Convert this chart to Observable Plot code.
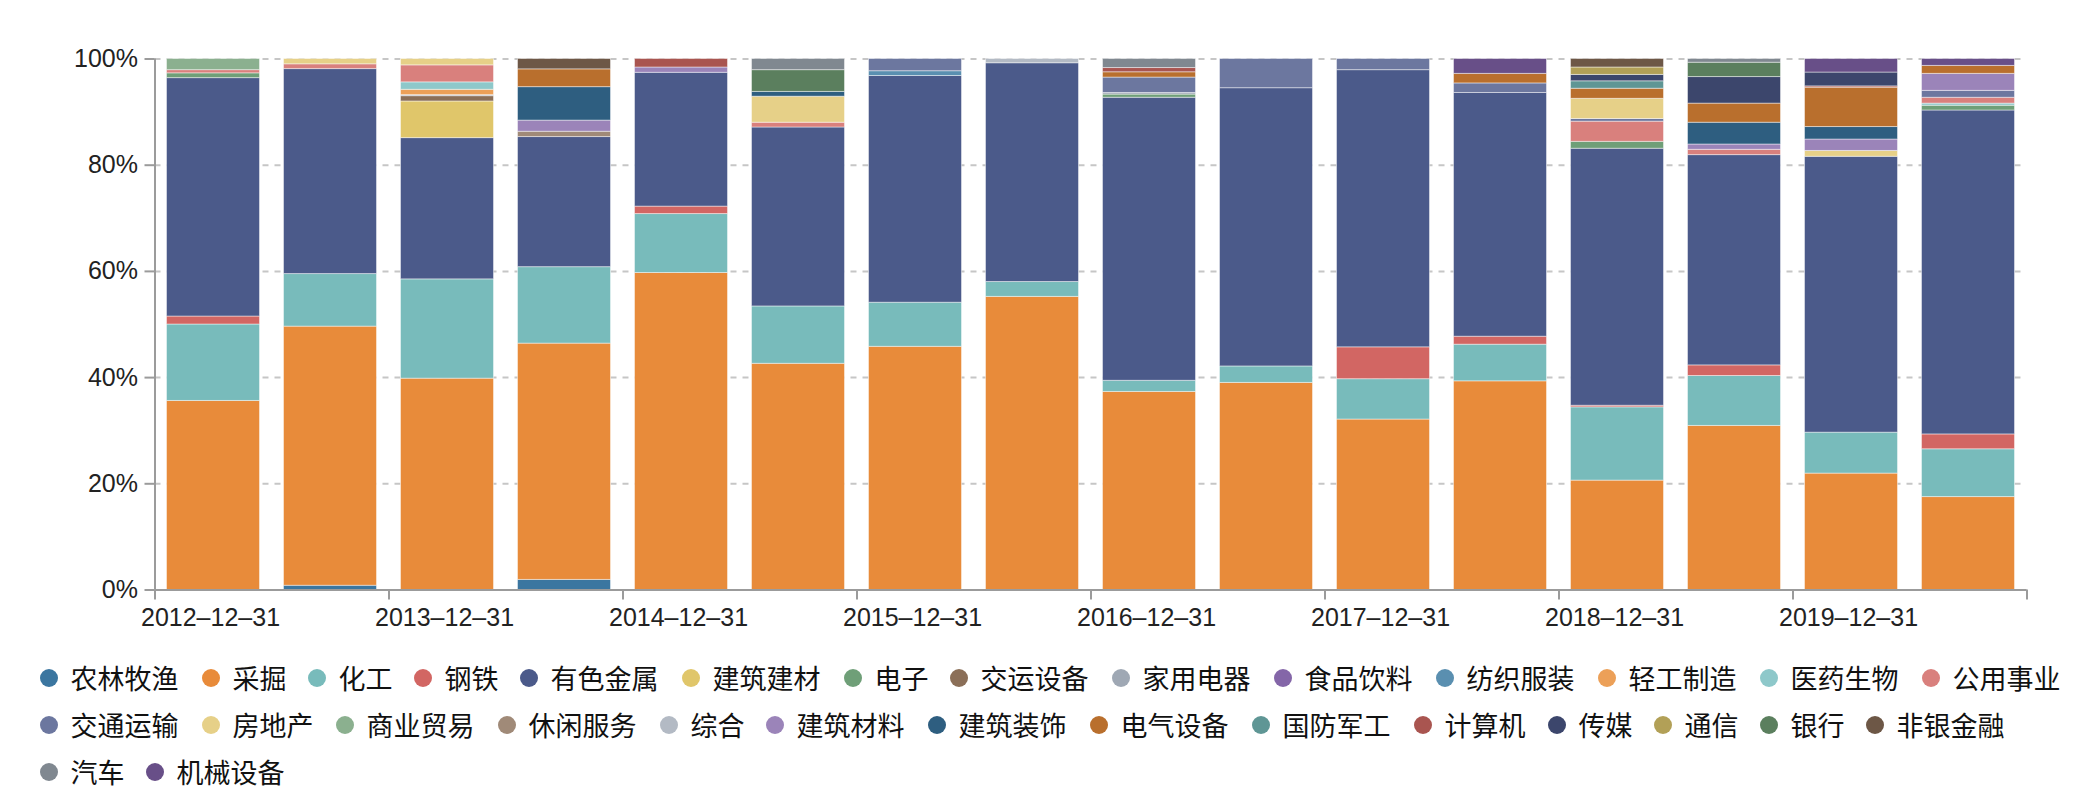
<!DOCTYPE html>
<html><head><meta charset="utf-8">
<script src="https://cdn.jsdelivr.net/npm/d3@7"></script>
<script src="https://cdn.jsdelivr.net/npm/@observablehq/plot@0.6"></script>
<style>
body{margin:0;background:#fff;}
#wrap{position:relative;width:2086px;height:806px;overflow:hidden;}
#legend{position:absolute;left:0;top:0;width:2086px;height:806px;}
.item{position:absolute;display:flex;align-items:center;height:30px;margin-top:-15px;font-family:"Noto Sans CJK SC",sans-serif;font-size:27px;line-height:1;color:#111;white-space:nowrap;}
.sw{width:18px;height:18px;border-radius:50%;margin-left:-9px;margin-right:13px;flex:none;}
</style></head><body>
<div id="wrap"><div id="chart"></div><div id="legend"></div></div>
<script>
const periods = ["2012-12-31","2013-06-30","2013-12-31","2014-06-30","2014-12-31","2015-06-30","2015-12-31","2016-06-30",
                 "2016-12-31","2017-06-30","2017-12-31","2018-06-30","2018-12-31","2019-06-30","2019-12-31","2020-06-30"];
const categories = ["农林牧渔","采掘","化工","钢铁","有色金属","建筑建材","电子","交运设备","家用电器","食品饮料",
                    "纺织服装","轻工制造","医药生物","公用事业","交通运输","房地产","商业贸易","休闲服务","综合","建筑材料",
                    "建筑装饰","电气设备","国防军工","计算机","传媒","通信","银行","非银金融","汽车","机械设备"];
const colors = ["#3b76a0","#e88b3a","#78bbbb","#d26663","#4b5a8a","#e0c66a","#6f9f78","#8b6f58","#9fa8b4","#8466a8",
                "#5a8fb0","#eca058","#8ec8ca","#d9807d","#6c779f","#e6d088","#8bb08f","#a08a78","#b3bac4","#9b84b9",
                "#2e5e80","#b96f2d","#5f9695","#a95550","#3c466c","#b2a057","#5b7f5e","#6d5746","#808890","#684f88"];
// share (%) of each industry (rows, same order as categories) in each period (columns)
const shares = [
  [0,0.8,0,1.9,0,0,0,0,0,0,0,0,0,0,0,0],                       // 农林牧渔
  [35.6,48.8,39.8,44.5,59.7,42.6,45.8,55.2,37.3,39.0,32.1,39.3,20.6,30.9,21.9,17.5], // 采掘
  [14.4,9.9,18.7,14.4,11.1,10.8,8.3,2.8,2.1,3.1,7.6,6.9,13.8,9.4,7.7,9.0], // 化工
  [1.5,0,0,0,1.4,0,0,0,0,0,6.0,1.5,0.3,2.0,0,2.8],             // 钢铁
  [44.9,38.6,26.6,24.5,25.2,33.7,42.7,41.2,53.3,52.4,52.2,45.9,48.4,39.6,51.9,61.0], // 有色金属
  [0,0,6.9,0,0,0,0,0,0,0,0,0,0,0,0,0],                         // 建筑建材
  [0.9,0,0,0,0,0,0,0,0.6,0,0,0,1.3,0,0,0.9],                   // 电子
  [0,0,1.0,0,0,0,0,0,0,0,0,0,0,0,0,0],                         // 交运设备
  [0,0,0.2,0,0,0,0,0,0.3,0,0,0,0,0,0,0],                       // 家用电器
  [0,0,0,0,0,0,0,0,0,0,0,0,0,0,0,0],                           // 食品饮料
  [0,0,0,0,0,0,0.9,0,0,0,0,0,0,0,0,0],                         // 纺织服装
  [0,0,1.0,0,0,0,0,0,0,0,0,0,0,0,0,0],                         // 轻工制造
  [0,0,1.4,0,0,0,0,0,0,0,0,0,0,0,0,0.4],                       // 医药生物
  [0.6,0.9,3.2,0,0,0.9,0,0,0,0,0,0,3.8,1.0,0,1.1],             // 公用事业
  [0,0,0,0,0,0,2.3,0,2.9,5.5,2.1,1.8,0.5,0,0,1.3],             // 交通运输
  [0,1.0,1.2,0,0,4.9,0,0,0,0,0,0,3.8,0,1.1,0],                 // 房地产
  [2.1,0,0,0,0,0,0,0,0,0,0,0,0,0,0,0],                         // 商业贸易
  [0,0,0,1.0,0,0,0,0,0,0,0,0,0,0,0,0],                         // 休闲服务
  [0,0,0,0,0,0,0,0.8,0,0,0,0,0,0,0,0],                         // 综合
  [0,0,0,2.1,1.0,0,0,0,0,0,0,0,0,1.0,2.15,3.2],                // 建筑材料
  [0,0,0,6.3,0,0.9,0,0,0,0,0,0,0,4.1,2.35,0],                  // 建筑装饰
  [0,0,0,3.35,0,0,0,0,1.0,0,0,1.8,1.9,3.6,7.4,1.5],            // 电气设备
  [0,0,0,0,0,0,0,0,0,0,0,0,1.4,0,0,0],                         // 国防军工
  [0,0,0,0,1.6,0,0,0,0.8,0,0,0,0,0,0.25,0],                    // 计算机
  [0,0,0,0,0,0,0,0,0,0,0,0,1.2,5.0,2.6,0],                     // 传媒
  [0,0,0,0,0,0,0,0,0,0,0,0,1.4,0,0,0],                         // 通信
  [0,0,0,0,0,4.1,0,0,0,0,0,0,0,2.7,0,0],                       // 银行
  [0,0,0,1.95,0,0,0,0,0,0,0,0,1.6,0,0,0],                      // 非银金融
  [0,0,0,0,0,2.1,0,0,1.7,0,0,0,0,0.7,0,0],                     // 汽车
  [0,0,0,0,0,0,0,0,0,0,0,2.8,0,0,2.55,1.3]                     // 机械设备
];
const yTicks = [0, 0.2, 0.4, 0.6, 0.8, 1];
const xTickIdx = [0, 2, 4, 6, 8, 10, 12, 14, 16];
const legendRows = [14, 14, 2];

const rows = [];
categories.forEach((cat, c) => {
  shares[c].forEach((v, i) => { if (v > 0) rows.push({i, cat, v}); });
});

const axisColor = "#9b9b9b";
const chart = Plot.plot({
  width: 2086, height: 640,
  marginLeft: 154.5, marginRight: 59.5, marginTop: 58.5, marginBottom: 50.5,
  x: {type: "linear", domain: [0, periods.length], axis: null},
  y: {domain: [0, 1], axis: null},
  color: {domain: categories, range: colors},
  style: {fontFamily: "'Liberation Sans', Arial, sans-serif", fontSize: "25px", color: "#222", background: "white", overflow: "visible"},
  marks: [
    Plot.gridY(yTicks.slice(1), {stroke: "#c6c6c6", strokeOpacity: 1, strokeWidth: 2, strokeDasharray: "6,6"}),
    Plot.rect(rows, Plot.stackY({
      x1: "i", x2: d => d.i + 1, y: "v", z: "cat", fill: "cat", offset: "normalize", order: null,
      insetLeft: 12, insetRight: 12, stroke: "#ffffff", strokeOpacity: 0.45, strokeWidth: 1
    })),
    Plot.ruleX([0], {stroke: axisColor, strokeWidth: 2}),
    Plot.ruleY([0], {stroke: axisColor, strokeWidth: 2}),
    Plot.axisY(yTicks, {tickSize: 10, tickPadding: 7, tickFormat: d3.format(".0%"), stroke: axisColor, strokeWidth: 2, fill: "#222", fontSize: 25, label: null}),
    Plot.axisX(xTickIdx, {tickSize: 10, stroke: axisColor, strokeWidth: 2, fill: "none", label: null}),
    Plot.axisX(xTickIdx, {tickSize: 0, tickPadding: 18, stroke: "none", fill: "#222", fontSize: 25, textAnchor: "start", dx: -14,
      tickFormat: i => (i < periods.length ? periods[i].replace(/-/g, "\u2013") : ""), label: null})
  ]
});
document.getElementById("chart").appendChild(chart);

// legend
const legend = document.getElementById("legend");
const rowY = [677.5, 724.5, 771.5];
let idx = 0;
legendRows.forEach((n, r) => {
  let cx = 48.5;
  for (let k = 0; k < n; k++, idx++) {
    const name = categories[idx];
    const item = document.createElement("div");
    item.className = "item";
    item.style.left = cx + "px";
    item.style.top = rowY[r] + "px";
    const sw = document.createElement("span");
    sw.className = "sw";
    sw.style.background = colors[idx];
    const t = document.createElement("span");
    t.textContent = name;
    item.appendChild(sw); item.appendChild(t);
    legend.appendChild(item);
    cx += 50 + 28 * name.length;
  }
});
</script>
</body></html>
